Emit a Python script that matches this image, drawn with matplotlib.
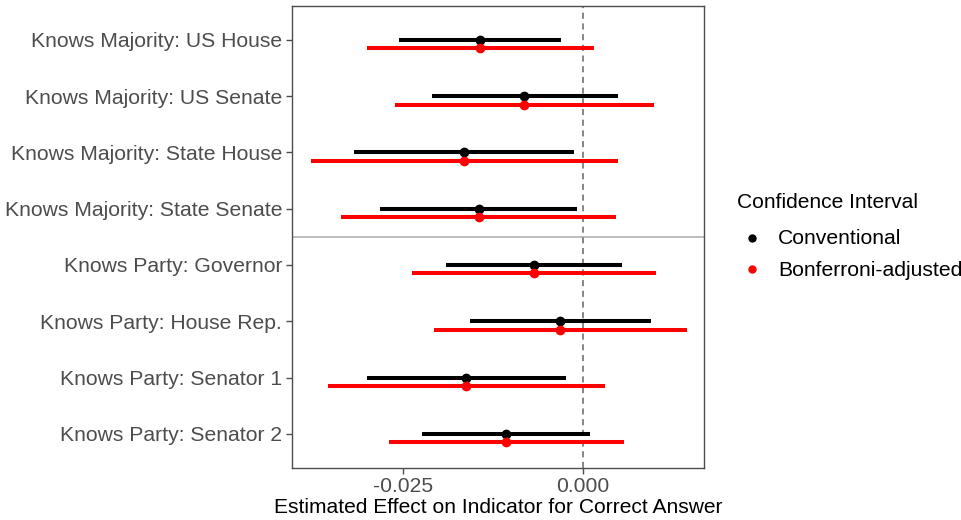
import matplotlib
matplotlib.use("Agg")
import matplotlib.pyplot as plt
from matplotlib.lines import Line2D
import numpy as np

plt.rcParams['font.family'] = ['Liberation Sans', 'DejaVu Sans']

categories = ["Knows Majority: US House", "Knows Majority: US Senate",
              "Knows Majority: State House", "Knows Majority: State Senate",
              "Knows Party: Governor", "Knows Party: House Rep.",
              "Knows Party: Senator 1", "Knows Party: Senator 2"]

estimate = [-0.0143, -0.0082, -0.0165, -0.0145, -0.0068, -0.0032, -0.0162, -0.0107]
conv_low = [-0.0256, -0.0210, -0.0318, -0.0282, -0.0190, -0.0157, -0.0300, -0.0223]
conv_high = [-0.0030, 0.0048, -0.0012, -0.0008, 0.0054, 0.0094, -0.0024, 0.0010]
bonf_low = [-0.0300, -0.0261, -0.0378, -0.0336, -0.0238, -0.0207, -0.0354, -0.0269]
bonf_high = [0.0015, 0.0099, 0.0049, 0.0046, 0.0102, 0.0144, 0.0031, 0.0057]

x_ticks = [-0.025, 0.0]
x_ticklabels = ["-0.025", "0.000"]

legend_title = "Confidence Interval"
legend_labels = ["Conventional", "Bonferroni-adjusted"]
legend_colors = ["black", "#FF0000"]

W, H = 962, 520
fig = plt.figure(figsize=(W / 100, H / 100), dpi=100)
ax = fig.add_axes([0.3035, 0.1006, 0.4283, 0.8879])

n = len(categories)
ypos = np.arange(n)  # 0 top
red_off = 0.15

ax.hlines(ypos, conv_low, conv_high, color='black', lw=2.9, zorder=3)
ax.plot(estimate, ypos, 'o', color='black', ms=6, zorder=4)
ax.hlines(ypos + red_off, bonf_low, bonf_high, color='#FF0000', lw=2.9, zorder=3)
ax.plot(estimate, ypos + red_off, 'o', color='#FF0000', ms=6, zorder=4)

ax.axvline(0, color='#666666', lw=1.1, ls=(0, (4, 3)), zorder=2)
ax.axhline(3.5, color='#BEBEBE', lw=1.4, zorder=1)

ax.set_xlim(-0.0404, 0.0168)
ax.set_ylim(n - 1 + 0.6, -0.6)
ax.set_yticks(ypos)
ax.set_yticklabels(categories)
ax.set_xticks(x_ticks)
ax.set_xticklabels(x_ticklabels)
ax.tick_params(axis='both', colors='#4D4D4D', labelcolor='#4D4D4D', labelsize=15.2,
               length=4, width=1)
ax.tick_params(axis='y', pad=3)
ax.tick_params(axis='x', pad=3)
for sp in ax.spines.values():
    sp.set_color('#4D4D4D')
    sp.set_linewidth(1.0)
ax.set_xlabel("Estimated Effect on Indicator for Correct Answer", fontsize=15.1,
              color='black', labelpad=1)

# legend, drawn by hand in figure pixel coordinates
def fx(px):
    return px / W

def fy(py):
    return 1 - py / H

fig.text(fx(737), fy(203), legend_title, fontsize=15.1, color='black',
         ha='left', va='center')
for i, (lab, col) in enumerate(zip(legend_labels, legend_colors)):
    yy = 238 + i * 31
    fig.add_artist(Line2D([fx(752)], [fy(yy)], marker='o', ls='', color=col, ms=5,
                          transform=fig.transFigure))
    fig.text(fx(778), fy(yy + 1), lab, fontsize=15.2, color='black', ha='left', va='center')

fig.savefig("out.png", dpi=100, facecolor='white')
